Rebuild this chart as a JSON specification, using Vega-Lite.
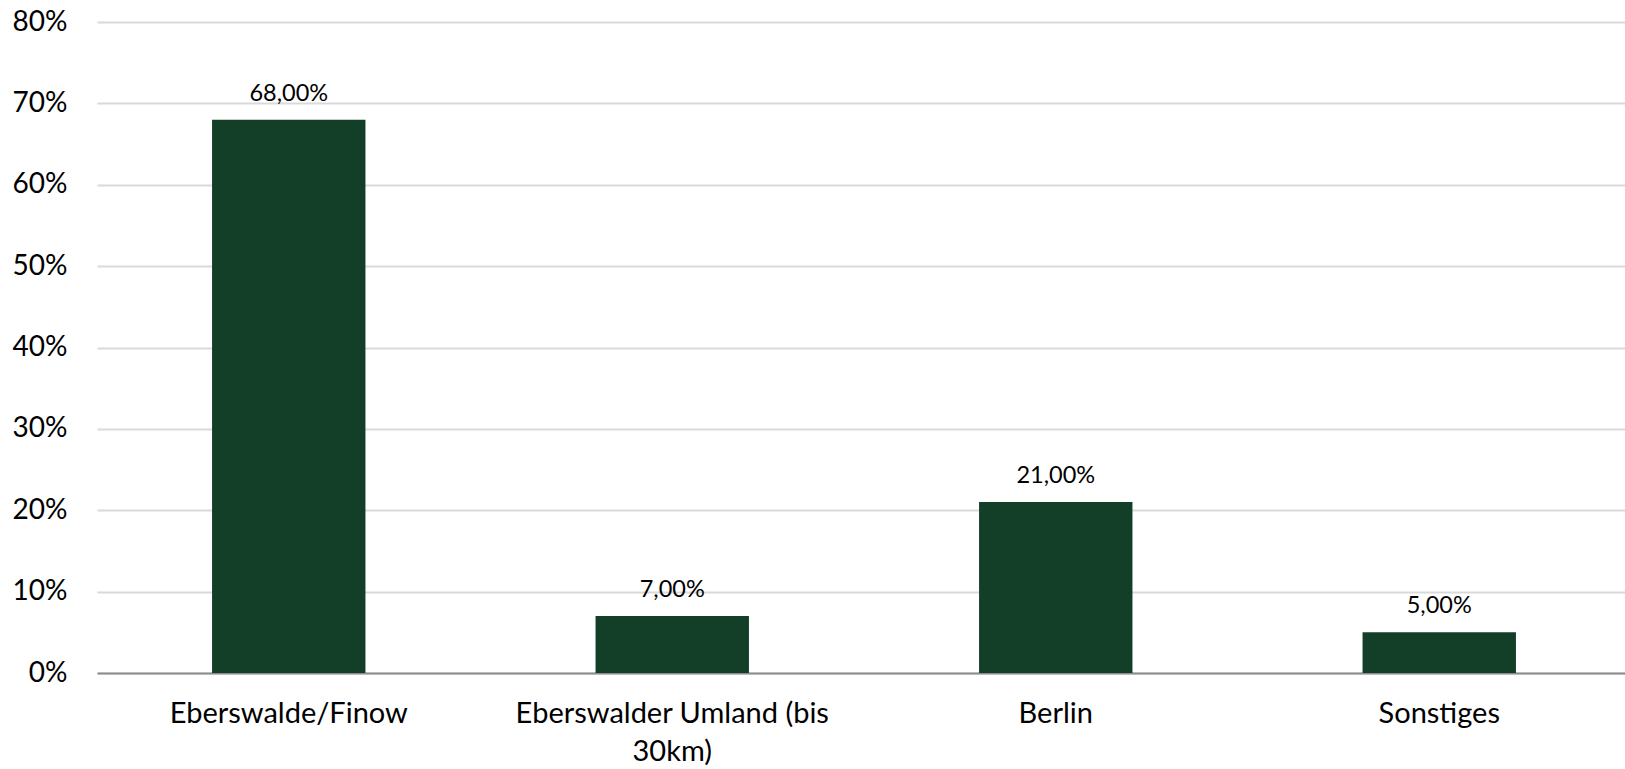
{
  "$schema": "https://vega.github.io/schema/vega-lite/v6.json",
  "autosize": {"type": "none"},
  "width": 1528,
  "height": 651,
  "padding": {"left": 97, "top": 22, "right": 0, "bottom": 96},
  "background": "#ffffff",
  "config": {
    "view": {"stroke": null},
    "font": "Lato",
    "locale": {"number": {"decimal": ",", "thousands": ".", "grouping": [3], "currency": ["", " €"]}}
  },
  "data": {
    "values": [
      {"region": "Eberswalde/Finow", "share": 0.68},
      {"region": "Eberswalder Umland (bis 30km)", "share": 0.07},
      {"region": "Berlin", "share": 0.21},
      {"region": "Sonstiges", "share": 0.05}
    ]
  },
  "encoding": {
    "x": {
      "field": "region",
      "type": "nominal",
      "sort": null,
      "scale": {"paddingInner": 0.6, "paddingOuter": 0.3, "range": [0, 1534]},
      "axis": {
        "title": null,
        "labelAngle": 0,
        "labelFontSize": 29,
        "labelColor": "#000000",
        "labelPadding": 26,
        "labelLineHeight": 38,
        "labelLimit": 0,
        "labelFont": "Lato",
        "ticks": false,
        "domainColor": "#8c8c8c",
        "domainWidth": 2,
        "labelExpr": "datum.value == 'Eberswalder Umland (bis 30km)' ? ['Eberswalder Umland (bis', '30km)'] : datum.value"
      }
    },
    "y": {
      "field": "share",
      "type": "quantitative",
      "scale": {"domain": [0, 0.8]},
      "axis": {
        "title": null,
        "values": [0, 0.1, 0.2, 0.3, 0.4, 0.5, 0.6, 0.7, 0.8],
        "format": ".0%",
        "labelFontSize": 28,
        "labelColor": "#000000",
        "labelPadding": 30,
        "ticks": false,
        "domain": false,
        "gridColor": "#d9d9d9",
        "gridWidth": 2
      }
    }
  },
  "layer": [
    {"mark": {"type": "bar", "color": "#133f29"}},
    {
      "mark": {"type": "text", "baseline": "alphabetic", "dy": -19, "fontSize": 23.5, "color": "#000000"},
      "encoding": {"text": {"field": "share", "type": "quantitative", "format": ".2%"}}
    }
  ]
}
